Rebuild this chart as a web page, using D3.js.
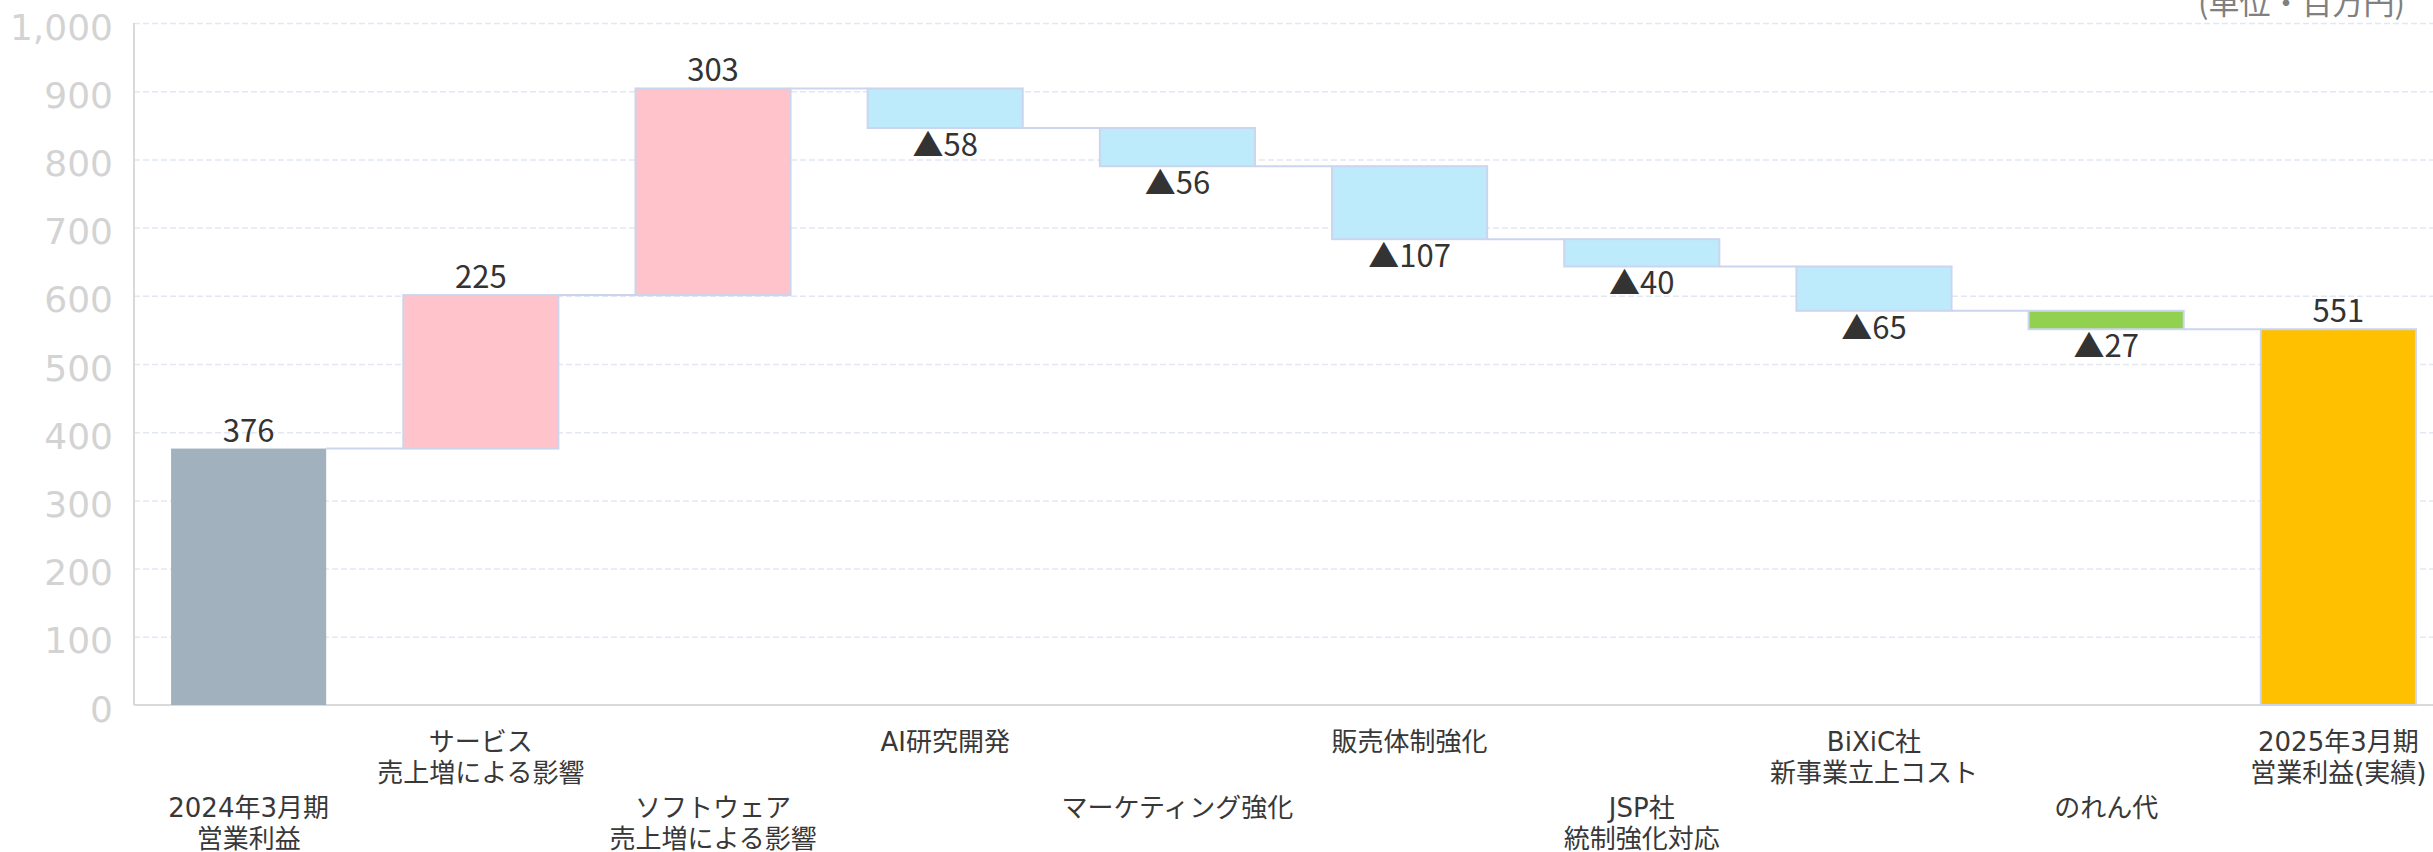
<!DOCTYPE html>
<html lang="ja">
<head>
<meta charset="utf-8">
<script src="https://cdn.jsdelivr.net/npm/d3@7"></script>
<style>
  html, body { margin: 0; padding: 0; background: #ffffff; }
  svg { display: block; }
</style>
</head>
<body>
<svg id="chart" width="2433" height="852"></svg>
<script>
// Operating profit bridge: FY2024/3 -> FY2025/3 (million yen)
const categories = [
  "2024年3月期\n営業利益",
  "サービス\n売上増による影響",
  "ソフトウェア\n売上増による影響",
  "AI研究開発",
  "マーケティング強化",
  "販売体制強化",
  "JSP社\n統制強化対応",
  "BiXiC社\n新事業立上コスト",
  "のれん代",
  "2025年3月期\n営業利益(実績)"
];
const values = [376, 225, 303, -58, -56, -107, -40, -65, -27, 551];
const barKinds = ["start", "increase", "increase", "decrease", "decrease", "decrease", "decrease", "decrease", "goodwill", "end"];
const yTicks = [0, 100, 200, 300, 400, 500, 600, 700, 800, 900, 1000];
const unitLabel = "(単位・百万円)";

const W = 2433, H = 852;
const svg = d3.select("#chart");

const x = d3.scaleBand()
  .domain(d3.range(categories.length))
  .range([133, 2454])
  .paddingInner(0.332)
  .paddingOuter(0.164);

const y = d3.scaleLinear().domain([0, 1000]).range([705, 23]);

const fillByKind = d3.scaleOrdinal()
  .domain(["start", "increase", "decrease", "goodwill", "end"])
  .range(["#a1b1bd", "#ffc3cb", "#bdebfc", "#92d050", "#ffc000"]);

// Waterfall segments: totals stand on zero, deltas float from the running level
let level = 0;
const bars = values.map((v, i) => {
  const kind = barKinds[i];
  let from, to;
  if (kind === "start" || kind === "end") { from = 0; to = v; level = v; }
  else { from = level; to = level + v; level = to; }
  return { i, v, kind, from, to, lo: Math.min(from, to), hi: Math.max(from, to) };
});

// Gridlines
const grid = svg.append("g")
  .attr("transform", "translate(134,0)")
  .call(d3.axisLeft(y).tickValues(yTicks.filter(d => d > 0)).tickSize(-(W - 134)).tickFormat(""));
grid.select(".domain").remove();
grid.selectAll(".tick line")
  .attr("stroke", "#e2e7f3")
  .attr("stroke-width", 1.5)
  .attr("stroke-dasharray", "6,3");

// Y axis labels
const yAxis = svg.append("g")
  .attr("transform", "translate(134,0)")
  .call(d3.axisLeft(y).tickValues(yTicks).tickSize(0).tickPadding(21).tickFormat(d3.format(",")));
yAxis.select(".domain").remove();
yAxis.selectAll(".tick text")
  .attr("fill", "#d3d3d3")
  .attr("font-family", "'DejaVu Sans', sans-serif")
  .attr("font-size", 36)
  .attr("dy", 16);

// Axis lines
svg.append("line")
  .attr("x1", 134).attr("x2", 134).attr("y1", y(1000)).attr("y2", y(0))
  .attr("stroke", "#d9d9d9").attr("stroke-width", 2);
svg.append("line")
  .attr("x1", 134).attr("x2", W).attr("y1", y(0)).attr("y2", y(0))
  .attr("stroke", "#dadada").attr("stroke-width", 2);

// Connectors between consecutive bars
svg.append("g").selectAll("line")
  .data(bars.slice(0, -1))
  .join("line")
  .attr("x1", d => x(d.i) + x.bandwidth())
  .attr("x2", d => x(d.i + 1))
  .attr("y1", d => y(d.to))
  .attr("y2", d => y(d.to))
  .attr("stroke", "#cbd5ee")
  .attr("stroke-width", 2);

// Bars
svg.append("g").selectAll("rect")
  .data(bars)
  .join("rect")
  .attr("x", d => x(d.i))
  .attr("y", d => y(d.hi))
  .attr("width", x.bandwidth())
  .attr("height", d => y(d.lo) - y(d.hi))
  .attr("fill", d => fillByKind(d.kind))
  .attr("stroke", d => d.kind === "start" ? "none" : "#cbd5ee")
  .attr("stroke-width", 2);

// Value labels
svg.append("g").selectAll("text")
  .data(bars)
  .join("text")
  .attr("x", d => x(d.i) + x.bandwidth() / 2)
  .attr("y", d => d.v >= 0 ? y(d.hi) - 7 : y(d.lo) + 28)
  .attr("text-anchor", "middle")
  .attr("font-family", "'Noto Sans CJK JP', sans-serif")
  .attr("font-size", 31)
  .attr("fill", "#333333")
  .text(d => d.v >= 0 ? d3.format(",")(d.v) : "▲" + d3.format(",")(Math.abs(d.v)));

// Category labels, staggered over two rows
const xAxis = svg.append("g")
  .attr("transform", `translate(0,${y(0)})`)
  .call(d3.axisBottom(x).tickSize(0).tickFormat(""));
xAxis.select(".domain").remove();
xAxis.selectAll(".tick").each(function (i) {
  const lines = categories[i].split("\n");
  const base = i % 2 === 1 ? 46 : 112;
  const t = d3.select(this).append("text")
    .attr("text-anchor", "middle")
    .attr("font-family", "'DejaVu Sans', 'Noto Sans CJK JP', sans-serif")
    .attr("font-size", 26)
    .attr("fill", "#383838");
  lines.forEach((ln, k) => {
    t.append("tspan").attr("x", 0).attr("y", base + k * 30.5).text(ln);
  });
});

// Unit note
svg.append("text")
  .attr("x", 2405)
  .attr("y", 14)
  .attr("text-anchor", "end")
  .attr("font-family", "'Noto Sans CJK JP', sans-serif")
  .attr("font-size", 31)
  .attr("fill", "#808080")
  .text(unitLabel);
</script>
</body>
</html>
